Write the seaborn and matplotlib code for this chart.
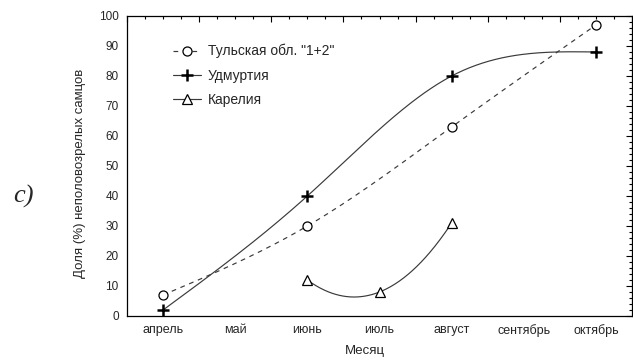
import numpy as np
import pandas as pd
import matplotlib
matplotlib.use("Agg")
import matplotlib.pyplot as plt
from matplotlib.lines import Line2D
import seaborn as sns

# Months on the x axis (positions 0..6)
months = ["апрель", "май", "июнь", "июль", "август", "сентябрь", "октябрь"]

# Share (%) of immature males by region
tula_x = [0, 2, 4, 6]
tula_y = [7, 30, 63, 97]
udm_x = [0, 2, 4, 6]
udm_y = [2, 40, 80, 88]
kar_x = [2, 3, 4]
kar_y = [12, 8, 31]

series_names = ['Тульская обл. "1+2"', "Удмуртия", "Карелия"]


def natural_spline(x, y, n=200):
    """Natural cubic spline through the given points."""
    x = np.asarray(x, float)
    y = np.asarray(y, float)
    k = len(x)
    h = np.diff(x)
    A = np.zeros((k, k))
    r = np.zeros(k)
    A[0, 0] = A[-1, -1] = 1.0
    for i in range(1, k - 1):
        A[i, i - 1] = h[i - 1]
        A[i, i] = 2 * (h[i - 1] + h[i])
        A[i, i + 1] = h[i]
        r[i] = 6 * ((y[i + 1] - y[i]) / h[i] - (y[i] - y[i - 1]) / h[i - 1])
    M = np.linalg.solve(A, r)
    xs = np.linspace(x[0], x[-1], n)
    ys = np.empty_like(xs)
    for j, xv in enumerate(xs):
        i = min(np.searchsorted(x, xv, side="right") - 1, k - 2)
        hi = h[i]
        a = (x[i + 1] - xv) / hi
        b = (xv - x[i]) / hi
        ys[j] = (a * y[i] + b * y[i + 1]
                 + ((a ** 3 - a) * M[i] + (b ** 3 - b) * M[i + 1]) * hi ** 2 / 6)
    return xs, ys


def poly_curve(x, y, n=200):
    coef = np.polyfit(x, y, len(x) - 1)
    xs = np.linspace(min(x), max(x), n)
    return xs, np.polyval(coef, xs)


sns.set_style("white")
plt.rcParams["font.family"] = ["Liberation Sans", "DejaVu Sans"]

fig = plt.figure(figsize=(6.33, 3.63), dpi=100)
ax = fig.add_axes([127 / 633, 1 - 316 / 363, (632 - 127) / 633, 300 / 363])

curves = [
    (natural_spline(tula_x, tula_y), tula_x, tula_y, (0, (4, 4)), "o", 6.5, 0.9),
    (natural_spline(udm_x, udm_y), udm_x, udm_y, "-", "+", 9, 1.8),
    (poly_curve(kar_x, kar_y), kar_x, kar_y, "-", "^", 7, 0.9),
]

handles = []
for (name, ((cx, cy), px, py, ls, mk, ms, mew)) in zip(series_names, curves):
    df_c = pd.DataFrame({"x": cx, "y": cy})
    sns.lineplot(data=df_c, x="x", y="y", ax=ax, color="#3a3a3a",
                 linewidth=0.85, linestyle=ls, sort=False)
    ax.plot(px, py, linestyle="none", marker=mk, markersize=ms,
            markerfacecolor="white" if mk != "+" else "black",
            markeredgecolor="black", markeredgewidth=mew, zorder=5)
    handles.append(Line2D([], [], color="#3a3a3a", linewidth=0.85, linestyle=ls,
                          marker=mk, markersize=ms,
                          markerfacecolor="white" if mk != "+" else "black",
                          markeredgecolor="black", markeredgewidth=mew))

ax.set_xlim(-0.5, 6.5)
ax.set_ylim(0, 100)

# x axis: long ticks between months, short ticks every quarter, month labels
ax.set_xticks(np.arange(-0.5, 6.51, 1.0))
ax.set_xticklabels([])
minor_pos = [p for p in np.arange(-0.5, 6.51, 0.25) if abs(p % 1 - 0.5) > 1e-6]
minor_lab = [months[int(round(p))] if abs(p - round(p)) < 1e-6 else "" for p in minor_pos]
ax.set_xticks(minor_pos, minor=True)
ax.set_xticklabels(minor_lab, minor=True, fontsize=9)

ax.set_yticks(np.arange(0, 101, 10))
ax.set_yticks(np.arange(0, 101, 2), minor=True)
ax.tick_params(axis="y", labelsize=8.5)

ax.tick_params(which="both", direction="in", top=True, right=True,
               color="black", width=0.8)
ax.tick_params(which="major", length=4)
ax.tick_params(which="minor", length=2.5)
ax.tick_params(axis="x", which="minor", pad=6)
ax.tick_params(axis="y", pad=6)

for s in ax.spines.values():
    s.set_color("black")
    s.set_linewidth(0.9)

ax.set_xlabel("Месяц", fontsize=9.5)
ax.xaxis.set_label_coords((365 - 127) / 505, -(345 - 316) / 300)
ax.set_ylabel("Доля (%) неполовозрелых самцов", fontsize=9.5)
ax.yaxis.set_label_coords(-(127 - 86) / 505, (316 - 173) / 300)

ax.legend(handles, series_names, loc="upper left",
          bbox_to_anchor=(0.08, 0.925), frameon=False, fontsize=10,
          handlelength=2.0, handletextpad=0.5, labelspacing=0.75,
          borderaxespad=0.0)

fig.text(13 / 633, 1 - 196 / 363, "c)", fontsize=19, style="italic",
         family="Liberation Serif", ha="left", va="center")

fig.savefig("out.png", dpi=100)
